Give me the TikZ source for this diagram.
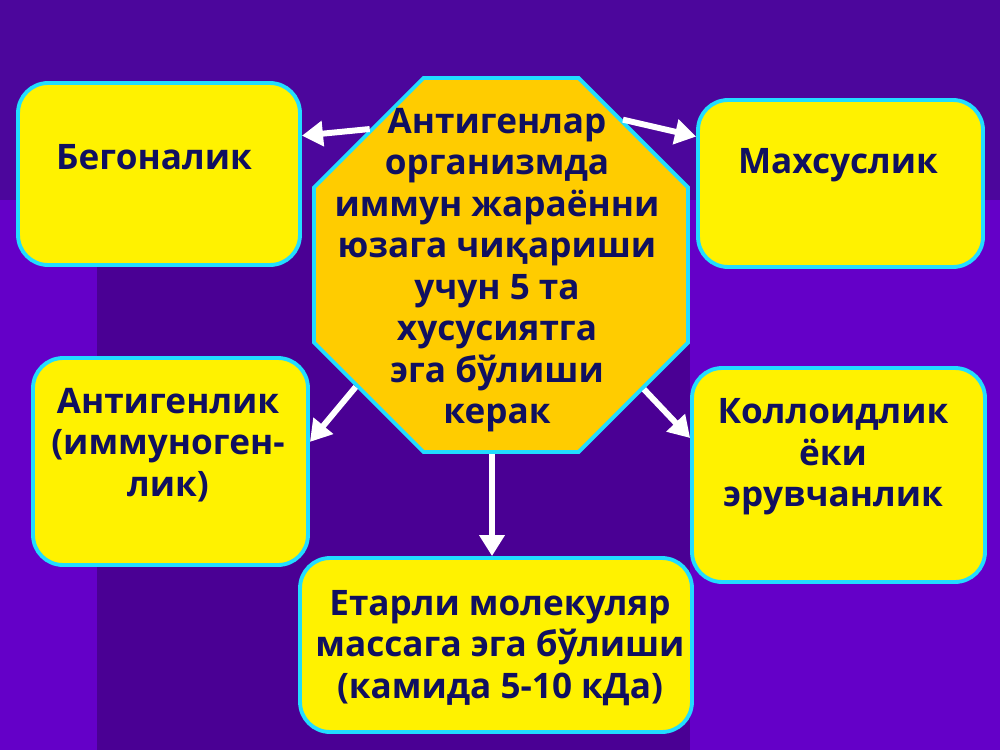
\documentclass[tikz,border=0pt]{standalone}
\usepackage{fontspec}
\setsansfont{Open Sans}
\usetikzlibrary{arrows.meta,shapes.geometric}
\definecolor{bgviolet}{HTML}{6400C8}
\definecolor{bgdark}{HTML}{4A0094}
\definecolor{bgtop}{HTML}{4C069C}
\definecolor{boxrim}{HTML}{22DDFF}
\definecolor{octfill}{HTML}{FFCC00}
\definecolor{ink}{HTML}{101060}
\begin{document}
\begin{tikzpicture}[x=0.02cm,y=-0.02cm,
  box/.style={draw=boxrim,line width=2.2pt,fill=yellow,rounded corners=0.6cm,inner sep=0pt},
  txt/.style={font=\sffamily\bfseries\fontsize{20}{23.6}\selectfont,text=ink,align=center,inner sep=0pt},
  arr/.style={draw=white,line width=3.4pt,-{Triangle[length=12pt,width=14pt]}}]
  \useasboundingbox (0,0) rectangle (1000,750);
  % background
  \fill[bgviolet] (0,0) rectangle (1000,750);
  \fill[bgtop] (0,0) rectangle (1000,200);
  \fill[bgdark] (97,200) rectangle (690,750);

  % boxes
  \node[box,minimum width=5.64cm,minimum height=3.64cm] (bego) at (159,174) {};
  \node[box,minimum width=5.7cm,minimum height=3.34cm] (maxs) at (840.5,183.5) {};
  \node[box,minimum width=5.5cm,minimum height=4.14cm] (antig) at (170.5,461.5) {};
  \node[box,minimum width=5.86cm,minimum height=4.28cm] (kolloid) at (838.5,475) {};
  \node[box,minimum width=7.84cm,minimum height=3.48cm] (etarli) at (496,645) {};
  \node[draw=boxrim,line width=2.2pt,fill=octfill,regular polygon,regular polygon sides=8,
    minimum size=8.1cm,inner sep=0pt] (oct) at (501,265) {};

  % texts
  \node[txt] (begoT) at (154,157) {Бегоналик};
  \node[txt] (maxsT) at (838,165) {Махсуслик};
  \node[txt] (antigT) at (168,445) {Антигенлик\\(иммуноген-\\лик)};
  \node[txt] (kolloidT) at (833,457) {Коллоидлик\\ёки\\эрувчанлик};
  \node[txt] (etarliT) at (500,648) {Етарли молекуляр\\массага эга бўлиши\\(камида 5-10 кДа)};
  \node[txt] (octT) at (497,270) {Антигенлар\\организмда\\иммун жараённи\\юзага чиқариши\\учун 5 та\\хусусиятга\\эга бўлиши\\керак};

  % arrows
  \foreach \a/\b in {oct.134/bego.15,oct.50/maxs.162,oct.220/antig.8,oct.319/kolloid.166}
    \draw[arr] (\a) -- (\b);
  \draw[arr] ([xshift=-0.18cm]oct.south) -- ([xshift=-0.18cm]oct.south |- etarli.north);
\end{tikzpicture}
\end{document}
